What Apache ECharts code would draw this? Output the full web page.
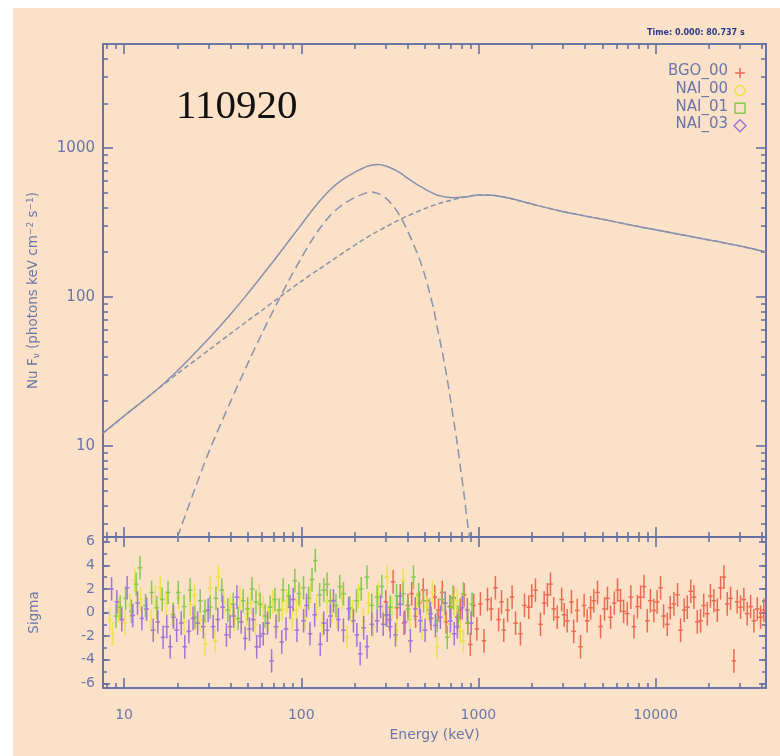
<!DOCTYPE html>
<html><head><meta charset="utf-8">
<script src="https://cdn.jsdelivr.net/npm/echarts@6/dist/echarts.min.js"></script>
<style>html,body{margin:0;padding:0;background:#fff}#c{width:780px;height:756px}</style>
</head><body><div id="c"></div>
<script>
// ---------- data ----------
const xTickLabels = [10, 100, 1000, 10000];
const yTickLabels = [10, 100, 1000];
const sigmaTickLabels = [-6, -4, -2, 0, 2, 4, 6];

// broad (power-law-like) component, short dashes
const plE = [7.6, 10, 15, 20, 30, 40, 50, 60, 73, 100, 125, 150, 180, 215, 260, 300, 350, 400, 500, 600, 700, 823, 1000, 1200, 1500, 2000, 2900, 4000, 5000, 7000, 10000, 14000, 20000, 30000, 42000];
const plV = [12.2, 15.9, 23.4, 30.6, 44, 57, 69.5, 81.5, 97, 127.5, 153, 177, 205, 236, 270, 296, 326, 351, 393, 425, 447, 467, 484, 482, 460, 421, 378, 350, 333, 307, 283, 262, 242, 220, 201];
// peaked component, long dashes
const pkE = [20, 25, 30.6, 40, 50, 60, 73, 85, 100, 117, 130, 146, 170, 200, 236, 250, 270, 300, 330, 362, 400, 440, 470, 500, 530, 560, 586, 620, 667, 722, 760, 792, 830, 866, 890];
const pkV = [2.45, 5.1, 9.6, 20, 36, 57, 91, 129, 183, 250, 299, 354, 415, 465, 503, 508, 497, 462, 410, 348, 275, 212, 173, 138, 107, 82, 62, 45, 28, 15.3, 10.3, 7.1, 4.7, 3.1, 2.45];
// total model, solid
const totE = [7.6, 10, 15, 20, 30.6, 40, 50, 60, 73, 85, 100, 117, 146, 170, 200, 236, 270, 300, 330, 362, 400, 440, 470, 500, 530, 586, 620, 667, 722, 760, 830, 890, 1000, 1200, 1500, 2000, 2900, 4000, 5000, 7000, 10000, 14000, 20000, 30000, 42000];
const totV = [12.2, 15.9, 23.4, 32, 54, 77, 106, 139, 187, 238, 306, 392, 527, 612, 688, 756, 776, 758, 724, 681, 626, 580, 553, 531, 510, 483, 476, 468, 465, 466, 470, 474, 484, 482, 460, 421, 378, 350, 333, 307, 283, 262, 242, 220, 201];

// residuals (sigma)
const bgoE = [300, 315, 330, 347, 362, 380, 400, 420, 442, 465, 488, 512, 540, 567, 595, 625, 657, 690, 725, 760, 790, 830, 870, 900, 940, 980, 1026, 1075, 1125, 1180, 1247, 1300, 1350, 1390, 1460, 1549, 1620, 1726, 1820, 1924, 2000, 2099, 2240, 2350, 2450, 2551, 2660, 2784, 2950, 3050, 3170, 3350, 3450, 3610, 3770, 3950, 4110, 4300, 4480, 4700, 4890, 5150, 5350, 5570, 5850, 6100, 6340, 6600, 6920, 7250, 7550, 7900, 8230, 8600, 8980, 9350, 9780, 10200, 10670, 11100, 11640, 12100, 12690, 13300, 13840, 14500, 15100, 15800, 16460, 17200, 17950, 18700, 19580, 20400, 21340, 22300, 23270, 24300, 25380, 26500, 27680, 28900, 30180, 31500, 32910, 34400, 35890, 37500, 39140, 40800];
const bgoS = [0.9, -0.6, 2.6, 0.4, 1.4, -0.9, 0.6, 1.6, -0.3, 0.8, 1.9, 1.0, -0.5, 1.3, 0.2, 1.7, -0.8, 0.5, 1.2, -0.4, 0.2, 1.5, -0.9, -2.7, 0.6, -1.4, 0.73, -2.4, 1.1, 0.3, 2.1, -0.6, 0.9, -1.5, 0.2, 1.3, -0.9, -1.8, 0.6, 0.45, 1.4, 1.9, -1.0, 0.8, 1.5, 2.4, 0.3, -0.4, 1.1, -0.2, -0.7, 0.9, -1.6, 0.17, -2.9, 0.6, -0.7, 0.4, 1.0, 1.7, -1.2, 0.3, 1.2, -0.4, 0.8, 1.9, 1.0, 0.1, -0.1, 1.3, -1.2, 0.5, 1.3, 2.2, -0.7, 1.0, 0.17, 0.9, 2.1, -0.3, -1.0, 0.4, 0.73, 1.5, -1.5, 0.2, 0.45, 1.8, 1.3, -0.8, -0.7, 0.6, -0.1, 1.4, 1.0, 0.2, 2.1, 3.0, 0.73, 1.2, -4.1, 0.9, 0.45, 1.1, -0.1, 0.5, -0.7, 0.3, -0.4, 0.2];
const nai00E = [8.3, 8.6, 9.3, 10.1, 10.8, 11.5, 12.4, 13.3, 14.2, 15, 16, 17.3, 18.9, 20.3, 21.8, 23.6, 25, 26.8, 28.7, 30.6, 32.6, 34, 36.5, 39.6, 42, 45, 49.3, 52, 55, 58, 61, 65, 69, 73, 78, 83, 89, 94, 98.5, 105, 113, 122, 131, 140, 149, 159, 170, 181, 195, 210, 224, 240, 255, 272, 290, 305, 325, 346, 376, 410, 449, 480, 512, 550, 585, 640, 695, 730, 760, 790, 822, 870];
const nai00S = [-0.6, -1.8, 0.2, -0.9, 0.6, 2.7, 1.1, 0.3, -0.7, 1.3, 2.1, 0.8, -0.1, 1.2, -0.8, 0.7, 1.5, -0.6, -2.7, 2.1, -2.4, 3.0, 0.9, 0.45, -0.6, 1.2, -0.1, 0.8, -1.0, 1.5, 0.45, -0.4, 0.9, -0.7, 0.3, 1.0, -0.6, 0.2, 1.3, -0.5, 1.8, 0.45, -1.1, 0.9, 0.1, -0.4, 1.2, -2.1, 0.1, 1.4, -0.7, 0.8, -1.2, 1.6, -0.3, 3.0, 0.4, -1.5, 2.7, -0.6, 0.7, -1.3, 0.45, 1.7, -2.9, 0.2, -1.0, 0.6, 1.0, -1.6, -2.4, 0.3];
const nai01E = [9.0, 9.5, 10.2, 11, 11.7, 12.3, 13.2, 14.3, 15.3, 16.4, 17.7, 18.9, 20.2, 21.8, 23.6, 25.1, 26.9, 28.6, 30.6, 33, 35.6, 38.5, 41.3, 44, 47, 49.8, 52.7, 55.5, 58.6, 62.5, 66.8, 71, 75, 79, 85, 92, 97, 103, 110, 115, 120, 127, 134, 140, 146, 157, 165, 173, 188, 205, 218, 235, 250, 268, 285, 300, 318, 345, 376, 400, 430, 460, 490, 530, 585, 620, 667, 700, 720, 770, 822, 870, 920];
const nai01S = [-0.3, 0.45, 1.2, 0.1, 2.4, 3.8, 0.6, 1.7, 0.4, 1.1, 1.7, -0.2, 1.7, 0.5, 1.9, -0.4, 1.0, 0.1, 0.45, 1.2, 1.9, 0.2, 0.7, -0.5, 1.0, 0.3, 2.0, 0.9, 0.7, -0.3, 0.45, 1.1, 0.2, 1.9, 1.4, 2.7, 1.6, 2.1, 1.2, 2.8, 4.4, 1.5, 1.9, 2.4, 1.0, 0.6, 2.2, 1.6, 0.4, 1.0, 2.0, 3.0, 0.6, 1.3, 2.2, -0.2, 0.45, 1.4, 1.6, 0.3, 3.0, 1.5, 1.0, 0.2, -0.7, 1.1, -2.1, 0.4, 1.3, -0.4, 1.6, -0.9, 0.7];
const nai03E = [8.5, 9.1, 9.7, 10.4, 11.2, 11.9, 12.6, 13.4, 14.6, 15.5, 16.6, 17.4, 18.2, 19.0, 19.8, 21, 22, 23.2, 24.5, 26, 28, 29.8, 31.8, 33.8, 36, 37.8, 39.6, 41.5, 43.3, 45.8, 48.2, 51, 53.5, 56, 58.5, 61, 64.5, 68, 72, 77.6, 82, 86.5, 90, 94.5, 103, 107, 112, 119, 128, 134, 140, 146, 152, 162, 173, 185, 197, 206, 215, 225, 235, 250, 268, 280, 290, 304, 318, 340, 362, 385, 413, 440, 470, 500, 536, 572, 610, 650, 695, 730, 760, 810, 865, 910];
const nai03S = [2.0, 0.9, -0.6, 2.1, -0.25, 0.8, -0.5, 0.3, -1.5, -0.8, -2.1, -1.2, -2.9, -0.4, -1.5, -0.9, -2.9, -1.6, -0.5, -0.9, -1.2, 0.2, -1.2, -0.6, 0.45, -1.9, -1.2, -0.3, 1.3, -0.8, -2.2, -1.4, -0.6, -2.9, -2.0, -1.8, -0.9, -4.1, -1.2, -2.5, -1.4, 0.45, 1.1, -1.5, -0.7, 0.6, -1.8, -0.2, -2.7, -0.9, -1.5, -0.3, 1.0, -0.6, -1.5, 0.3, -0.7, -1.9, -3.5, -1.3, -2.9, -1.0, -0.7, 0.5, -1.0, -0.2, -1.2, -1.9, 0.7, -0.8, -2.4, 0.3, -0.7, -1.5, -0.1, -1.1, -0.4, 0.8, -0.7, -1.8, -1.2, 0.4, 0.2, -0.9];

// ---------- styles ----------
const XMIN = 7.6, XMAX = 42000, YMIN = 2.45, YMAX = 5000, SMIN = -6.4, SMAX = 6.4;
const AX = '#6670a4', TXT = '#6a76a8', CURVE = '#8791ab';
const BIN = 1.03;

function logMinor(lo, hi) {
  const out = [];
  for (let d = 1; d <= 100000; d *= 10)
    for (let k = 2; k <= 9; k++) { const v = k * d; if (v >= lo && v <= hi) out.push(v); }
  return out;
}
const xMinor = logMinor(XMIN, XMAX), yMinor = logMinor(YMIN, YMAX);
const sMinor = [-6, -5, -4, -3, -2, -1, 0, 1, 2, 3, 4, 5, 6];

const fmt = v => String(Math.round(v));
const lblStyle = { color: TXT, fontFamily: 'DejaVu Sans', fontSize: 15 };

function axis(kind, grid, pos, ticks, len, labels, extra) {
  const a = {
    type: kind, gridIndex: grid, position: pos,
    axisLine: { show: true, onZero: false, lineStyle: { color: AX, width: 1.6 } },
    axisTick: { show: true, inside: true, length: len, customValues: ticks, lineStyle: { color: AX, width: 1.6 } },
    axisLabel: labels ? Object.assign({ customValues: labels, formatter: fmt, margin: 8 }, lblStyle) : { show: false },
    splitLine: { show: false }, minorTick: { show: false }
  };
  if (kind === 'log') a.logBase = 10;
  return Object.assign(a, extra || {});
}
const xr = { min: XMIN, max: XMAX }, yr = { min: YMIN, max: YMAX }, sr = { min: SMIN, max: SMAX };

const xAxes = [];
const yAxes = [];
// main panel (grid 0): index 0 = bottom major (data axis)
xAxes.push(axis('log', 0, 'bottom', xTickLabels, 10, null, xr));
xAxes.push(axis('log', 0, 'bottom', xMinor, 5, null, xr));
xAxes.push(axis('log', 0, 'top', xTickLabels, 10, null, xr));
xAxes.push(axis('log', 0, 'top', xMinor, 5, null, xr));
// residual panel (grid 1): index 4 = bottom major with labels (data axis)
const xLab = axis('log', 1, 'bottom', xTickLabels, 10, xTickLabels, Object.assign({
  name: 'Energy (keV)', nameLocation: 'middle', nameGap: 40,
  nameTextStyle: { color: TXT, fontFamily: 'DejaVu Sans', fontSize: 14 }
}, xr));
xLab.axisLabel.margin = 20;
xLab.axisLabel.fontSize = 14;
xAxes.push(xLab);
xAxes.push(axis('log', 1, 'bottom', xMinor, 5, null, xr));
xAxes.push(axis('log', 1, 'top', xTickLabels, 10, null, xr));
xAxes.push(axis('log', 1, 'top', xMinor, 5, null, xr));

yAxes.push(axis('log', 0, 'left', yTickLabels, 10, yTickLabels, Object.assign({
  name: 'Nu F{sub|ν} (photons keV cm{sup|−2} s{sup|−1})', nameLocation: 'middle', nameGap: 62, nameRotate: 90,
  nameTextStyle: { color: TXT, fontFamily: 'DejaVu Sans', fontSize: 13.5,
    rich: { sub: { fontSize: 9, color: TXT, verticalAlign: 'bottom', padding: [6, 0, 0, 0] },
            sup: { fontSize: 9, color: TXT, verticalAlign: 'top', padding: [0, 0, 6, 0] } } }
}, yr)));
yAxes.push(axis('log', 0, 'left', yMinor, 5, null, yr));
yAxes.push(axis('log', 0, 'right', yTickLabels, 10, null, yr));
yAxes.push(axis('log', 0, 'right', yMinor, 5, null, yr));
const sLab = axis('value', 1, 'left', sigmaTickLabels, 7, sigmaTickLabels, Object.assign({
  name: 'Sigma', nameLocation: 'middle', nameGap: 62, nameRotate: 90,
  nameTextStyle: { color: TXT, fontFamily: 'DejaVu Sans', fontSize: 13.5 }
}, sr));
sLab.axisLabel.fontSize = 14;
yAxes.push(sLab);
yAxes.push(axis('value', 1, 'left', sMinor, 4, null, sr));
yAxes.push(axis('value', 1, 'right', sigmaTickLabels, 7, null, sr));
yAxes.push(axis('value', 1, 'right', sMinor, 4, null, sr));

function pairs(a, b) { return a.map((v, i) => [v, b[i]]); }

function errRender(params, api) {
  const e = api.value(0), s = api.value(1);
  const t = api.coord([e, s + 1]), b = api.coord([e, s - 1]);
  const l = api.coord([e / BIN, s]), r = api.coord([e * BIN, s]);
  const c = api.visual('color');
  return { type: 'group', children: [
    { type: 'line', shape: { x1: t[0], y1: t[1], x2: b[0], y2: b[1] }, style: { stroke: c, lineWidth: 1.5 } },
    { type: 'line', shape: { x1: l[0], y1: l[1], x2: r[0], y2: r[1] }, style: { stroke: c, lineWidth: 1.5 } }
  ] };
}
function resid(name, E, S, color) {
  return { name, type: 'custom', xAxisIndex: 4, yAxisIndex: 4, data: pairs(E, S),
    itemStyle: { color, opacity: 0.9 }, renderItem: errRender, clip: true, silent: true };
}
function curve(name, E, V, dash) {
  return { name, type: 'line', xAxisIndex: 0, yAxisIndex: 0, data: pairs(E, V), smooth: 0.3,
    showSymbol: false, clip: true, silent: true,
    lineStyle: { color: CURVE, width: 1.5, type: dash } };
}

const legendRows = [
  { t: 'BGO_00', c: '#ec6a50', m: 'plus' },
  { t: 'NAI_00', c: '#ece24a', m: 'circle' },
  { t: 'NAI_01', c: '#86c850', m: 'square' },
  { t: 'NAI_03', c: '#a273d8', m: 'diamond' }
];
const graphics = [
  { type: 'rect', z: -10, silent: true, shape: { x: 13, y: 8, width: 767, height: 748 }, style: { fill: '#fae1c8' } },
  { type: 'text', left: 176, top: 87, style: { text: '110920', font: '41px "Liberation Serif"', fill: '#111' } },
  { type: 'text', left: 647, top: 29, style: { text: 'Time: 0.000: 80.737 s', font: 'bold 8px "DejaVu Sans"', fill: '#2c3a86' } }
];
legendRows.forEach((r, i) => {
  const y = 73 + i * 17.6;
  graphics.push({ type: 'text', right: 52, top: y - 9, style: { text: r.t, font: '15px "DejaVu Sans"', fill: TXT } });
  const cx = 740;
  if (r.m === 'plus') graphics.push({ type: 'polyline', shape: { points: [[cx - 5, y], [cx + 5, y]] }, style: { stroke: r.c, lineWidth: 1.5 } },
                                    { type: 'polyline', shape: { points: [[cx, y - 5], [cx, y + 5]] }, style: { stroke: r.c, lineWidth: 1.5 } });
  if (r.m === 'circle') graphics.push({ type: 'circle', shape: { cx, cy: y, r: 5 }, style: { stroke: r.c, fill: 'none', lineWidth: 1.5 } });
  if (r.m === 'square') graphics.push({ type: 'rect', shape: { x: cx - 5, y: y - 5, width: 10, height: 10 }, style: { stroke: r.c, fill: 'none', lineWidth: 1.5 } });
  if (r.m === 'diamond') graphics.push({ type: 'polygon', shape: { points: [[cx, y - 6], [cx + 6, y], [cx, y + 6], [cx - 6, y]] }, style: { stroke: r.c, fill: 'none', lineWidth: 1.5 } });
});

const chart = echarts.init(document.getElementById('c'), null, { renderer: 'canvas' });
chart.setOption({
  animation: false,
  backgroundColor: '#ffffff',
  grid: [
    { left: 103, top: 44, width: 663, height: 493 },
    { left: 103, top: 537, width: 663, height: 151 }
  ],
  xAxis: xAxes,
  yAxis: yAxes,
  graphic: graphics,
  series: [
    curve('comp2', plE, plV, [5, 3]),
    curve('comp1', pkE, pkV, [9, 5]),
    curve('total', totE, totV, 'solid'),
    resid('BGO_00', bgoE, bgoS, '#ec6a50'),
    resid('NAI_00', nai00E, nai00S, '#ece24a'),
    resid('NAI_01', nai01E, nai01S, '#86c850'),
    resid('NAI_03', nai03E, nai03S, '#a273d8')
  ]
});
</script></body></html>
